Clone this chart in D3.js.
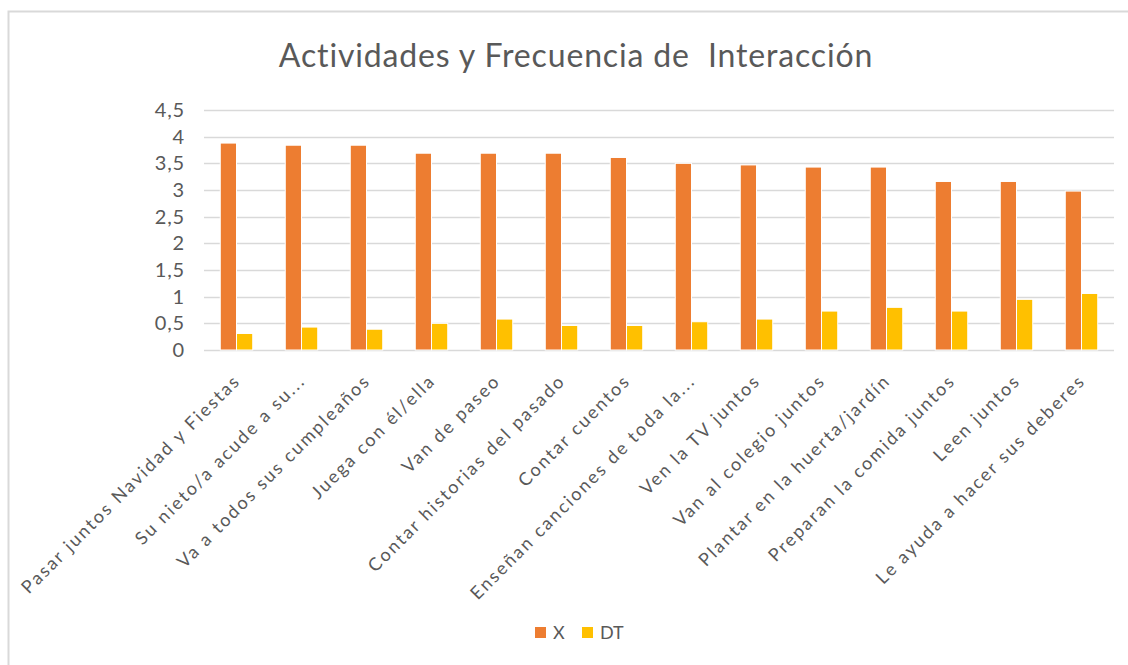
<!DOCTYPE html>
<html>
<head>
<meta charset="utf-8">
<script src="https://cdn.jsdelivr.net/npm/d3@7"></script>
<style>
  html, body { margin: 0; padding: 0; background: #fff; }
  svg { display: block; }
</style>
</head>
<body>
<svg id="chart" width="1128" height="665"></svg>
<script>
// Chart data
const categories = [
    "Pasar juntos Navidad y Fiestas",
    "Su nieto/a acude a su...",
    "Va a todos sus cumpleaños",
    "Juega con él/ella",
    "Van de paseo",
    "Contar historias del pasado",
    "Contar cuentos",
    "Enseñan canciones de toda la...",
    "Ven la TV juntos",
    "Van al colegio juntos",
    "Plantar en la huerta/jardín",
    "Preparan la comida juntos",
    "Leen juntos",
    "Le ayuda a hacer sus deberes"
];
const seriesNames = ["X", "DT"];
const valuesX  = [3.88, 3.84, 3.84, 3.69, 3.69, 3.69, 3.61, 3.50, 3.47, 3.43, 3.43, 3.16, 3.16, 2.98];
const valuesDT = [0.31, 0.43, 0.39, 0.50, 0.58, 0.46, 0.46, 0.53, 0.58, 0.73, 0.80, 0.73, 0.95, 1.06];
const yTicks = [0, 0.5, 1, 1.5, 2, 2.5, 3, 3.5, 4, 4.5];

const colours = { X: "#ed7d31", DT: "#ffc000" };
const textColour = "#595959";
const fontFamily = "Lato, 'Open Sans', sans-serif";

const rows = categories.map((c, i) => ({ cat: c, X: valuesX[i], DT: valuesDT[i] }));

/// SETUP ///
const svg = d3.select("#chart");
const margin = { top: 110, right: 14, bottom: 315, left: 204 };
const chartWidth = 1128 - margin.left - margin.right;
const chartHeight = 665 - margin.top - margin.bottom;

// outer chart border (only top/left show inside the picture)
svg.append("rect")
    .attr("x", 8.5).attr("y", 11.5)
    .attr("width", 1140).attr("height", 680)
    .attr("fill", "none")
    .attr("stroke", "#d9d9d9")
    .attr("stroke-width", 2);

// Title
svg.append("text")
    .text("Actividades y Frecuencia de  Interacción")
    .attr("x", 576)
    .attr("y", 67)
    .attr("text-anchor", "middle")
    .attr("fill", textColour)
    .attr("font-family", fontFamily)
    .attr("font-size", 32)
    .attr("letter-spacing", 0.85)
    .style("white-space", "pre");

const g = svg.append("g")
    .attr("transform", `translate(${margin.left},${margin.top})`);

// Scales
const x = d3.scaleBand()
    .domain(categories)
    .range([0, chartWidth])
    .paddingInner(0.5)
    .paddingOuter(0.25);

const xSub = d3.scaleBand()
    .domain(seriesNames)
    .range([0, x.bandwidth()]);

const y = d3.scaleLinear()
    .domain([0, 4.5])
    .range([chartHeight, 0]);

// Gridlines
g.append("g")
    .selectAll("line")
    .data(yTicks)
    .enter()
    .append("line")
    .attr("x1", 0)
    .attr("x2", chartWidth)
    .attr("y1", d => Math.round(y(d)) + 0.5)
    .attr("y2", d => Math.round(y(d)) + 0.5)
    .attr("stroke", "#d9d9d9")
    .attr("stroke-width", 1.5);

// Y axis labels
const yAxis = g.append("g")
    .call(d3.axisLeft(y).tickValues(yTicks).tickSize(0).tickPadding(19)
        .tickFormat(d => String(d).replace(".", ",")));
yAxis.select(".domain").remove();
yAxis.selectAll("text")
    .attr("fill", textColour)
    .attr("font-family", fontFamily)
    .attr("font-size", 20)
    .attr("letter-spacing", 0.8);

// Bars
const groups = g.selectAll(".cat")
    .data(rows)
    .enter()
    .append("g")
    .attr("transform", d => `translate(${x(d.cat)},0)`);

groups.selectAll("rect")
    .data(d => seriesNames.map(s => ({ key: s, value: d[s] })))
    .enter()
    .append("rect")
    .attr("x", d => xSub(d.key))
    .attr("width", xSub.bandwidth())
    .attr("y", d => y(d.value))
    .attr("height", d => y(0) - y(d.value))
    .attr("fill", d => colours[d.key])
    .attr("stroke", "#fff")
    .attr("stroke-width", 1);

// X axis labels
const xAxis = g.append("g")
    .attr("transform", `translate(0,${chartHeight})`)
    .call(d3.axisBottom(x).tickSize(0).tickPadding(0));
xAxis.select(".domain").remove();
xAxis.selectAll("text")
    .attr("fill", textColour)
    .attr("font-family", fontFamily)
    .attr("font-size", 18)
    .attr("letter-spacing", 2.1)
    .attr("text-anchor", "end")
    .attr("dy", null)
    .attr("y", 0)
    .attr("transform", "translate(5,32) rotate(-45)");

// Legend
const legend = svg.append("g")
    .attr("transform", "translate(535,627)");
const legendItems = legend.selectAll("g")
    .data(seriesNames)
    .enter()
    .append("g")
    .attr("transform", (d, i) => `translate(${i * 47},0)`);
legendItems.append("rect")
    .attr("width", 11).attr("height", 11)
    .attr("fill", d => colours[d]);
legendItems.append("text")
    .text(d => d)
    .attr("x", 18)
    .attr("y", 12)
    .attr("fill", textColour)
    .attr("font-family", fontFamily)
    .attr("font-size", 18);
</script>
</body>
</html>
